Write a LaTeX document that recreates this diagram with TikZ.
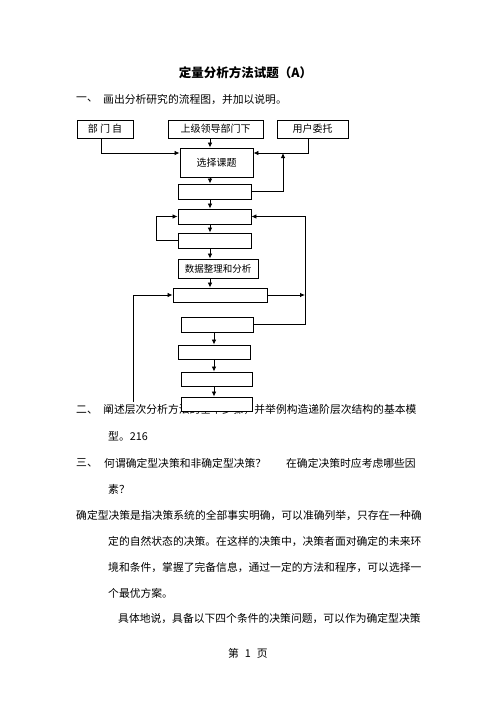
\documentclass[tikz,border=0pt]{standalone}
\usepackage{fontspec}
\setmainfont{Noto Sans CJK SC}
\usepackage{tikz}
\usetikzlibrary{arrows.meta,positioning}

\begin{document}
\begin{tikzpicture}[x=1pt,y=-1pt, arrow/.style = {line width=0.8pt,-{Latex[length=5pt,width=4.5pt]}}]
		\tikzset{box/.style={draw=black,line width=0.9pt,rectangle,fill=white,inner sep=0pt,align=center,font=\fontsize{10}{12}\selectfont},
			txt/.style={anchor=west,inner sep=0pt,font=\fontsize{10.8}{13}\selectfont}}

		\useasboundingbox[fill=white] (0,0) rectangle (496,702);

		% Title and questions
		\node[inner sep=0pt,font=\bfseries\fontsize{12.5}{15}\selectfont] (title) at (245.5,73) {定量分析方法试题（A）};
		\node[txt] (q1n) at (76,99) {一、};
		\node[txt] (q1) at (103,99) {画出分析研究的流程图，并加以说明。};

		\node[txt] (q2n) at (76,410) {二、};
		\node[txt] (q2) at (103,410) {阐述层次分析方法的基本步骤，并举例构造递阶层次结构的基本模};
		\node[txt] (q2b) at (108,436) {型。216};
		\node[txt] (q3n) at (76,463) {三、};
		\node[txt] (q3) at (104,463) {何谓确定型决策和非确定型决策？\hspace{20pt}在确定决策时应考虑哪些因};
		\node[txt] (q3b) at (108,489) {素？};

		% Answer
		\node[txt] (l1) at (76,515) {确定型决策是指决策系统的全部事实明确，可以准确列举，只存在一种确};
		\node[txt] (l2) at (108,541) {定的自然状态的决策。在这样的决策中，决策者面对确定的未来环};
		\node[txt] (l3) at (108,567) {境和条件，掌握了完备信息，通过一定的方法和程序，可以选择一};
		\node[txt] (l4) at (108,593) {个最优方案。};
		\node[txt] (l5) at (118,618) {具体地说，具备以下四个条件的决策问题，可以作为确定型决策};

		\node[inner sep=0pt,font=\fontsize{10.8}{13}\selectfont] (page) at (248,653) {第\hspace{6pt}1\hspace{6pt}页};

		% Sources
		\node[box, minimum width=56pt, minimum height=18pt] (src1) at (105,129) {部\ 门\ 自};
		\node[box, minimum width=95pt, minimum height=18pt] (src2) at (215.5,129) {上级领导部门下};
		\node[box, minimum width=71pt, minimum height=18pt] (src3) at (312.5,129) {用户委托};

		% Steps
		\node[box, minimum width=73pt, minimum height=29pt] (sel) at (216.5,162.5) {选择课题};
		\node[box, minimum width=73pt, minimum height=15pt] (s2) at (214.5,191.5) {};
		\node[box, minimum width=73pt, minimum height=15pt] (s3) at (214.5,216.5) {};
		\node[box, minimum width=73pt, minimum height=15pt] (s4) at (214.5,240.5) {};
		\node[box, minimum width=80pt, minimum height=19pt] (s5) at (218,268.5) {\fontsize{9.5}{11}\selectfont 数据整理和分析};
		\node[box, minimum width=94pt, minimum height=14pt] (s6) at (220,295) {};
		\node[box, minimum width=72pt, minimum height=15pt] (s7) at (217,324.5) {};
		\node[box, minimum width=72pt, minimum height=14pt] (s8) at (214,352) {};
		\node[box, minimum width=71pt, minimum height=14pt] (s9) at (216.5,379) {};
		\node[box, minimum width=71pt, minimum height=14pt] (s10) at (216.5,404) {};

		% Helper points
		\coordinate (lvl) at (0,153);
		\coordinate (up) at (283,153);
		\coordinate (col) at (210,0);
		\coordinate (col2) at (214,0);
		\coordinate (rx) at (305,0);
		\coordinate (lb) at (133,402);

		% Arrows
		\draw [arrow] (src1.south -| 101,0) |- (sel.west |- lvl);
		\draw [arrow] (src3.south -| 308,0) |- (sel.east |- lvl);
		\draw [arrow] (col |- src2.south) -- (col |- sel.north);
		\draw [arrow] (s2.east) -| (up);
		\draw [arrow] (col |- sel.south) -- (col |- s2.north);
		\draw [arrow] (col |- s2.south) -- (col |- s3.north);
		\draw [arrow] (col |- s3.south) -- (col |- s4.north);
		\draw [arrow] (s4.west) -- ++(-21,0) |- (s3.west);
		\draw [arrow] (col |- s4.south) -- (col |- s5.north);
		\draw [arrow] (col |- s5.south) -- (col |- s6.north);
		\draw [arrow] (s6.east) -- (rx |- s6.east);
		\draw [arrow] (lb) |- (s6.west);
		\draw [arrow] (s7.east) -- (rx |- s7.east) |- (s3.east);
		\draw [arrow] (col2 |- s7.south) -- (col2 |- s8.north);
		\draw [arrow] (col2 |- s8.south) -- (col2 |- s9.north);
		\draw [arrow] (col2 |- s9.south) -- (col2 |- s10.north);

	\end{tikzpicture}
\end{document}
